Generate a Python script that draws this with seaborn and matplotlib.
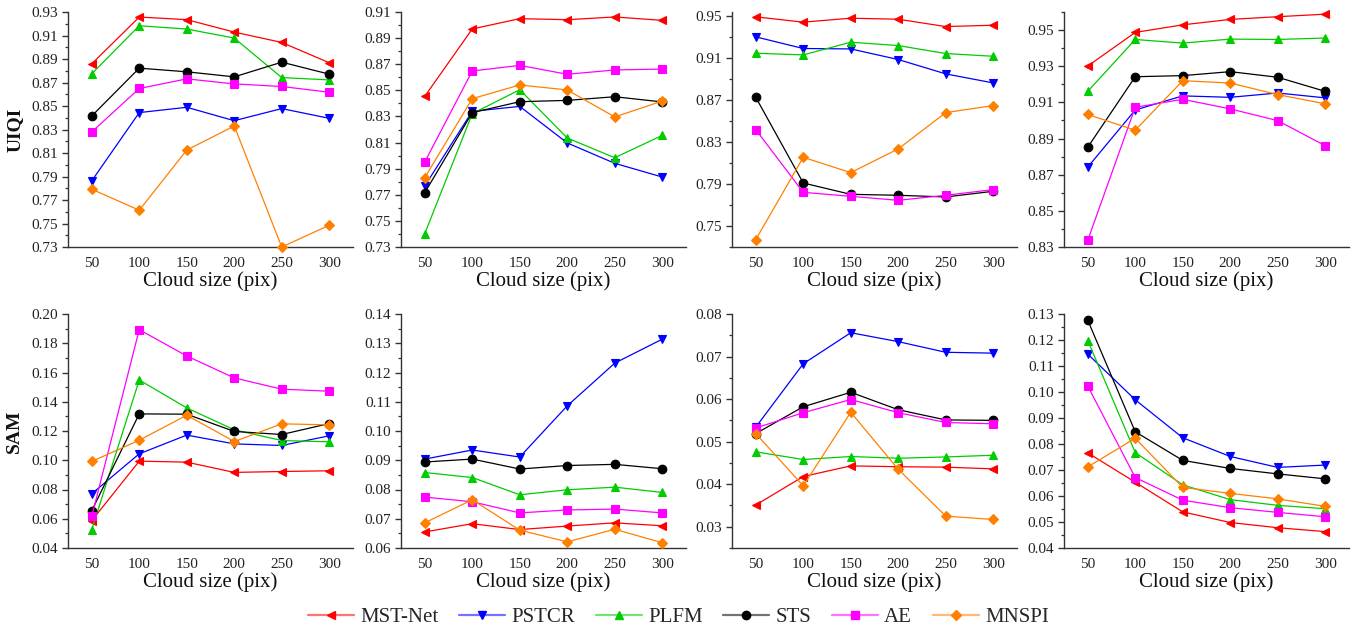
import numpy as np
import pandas as pd
import matplotlib
matplotlib.use("Agg")
import matplotlib.pyplot as plt
from matplotlib.lines import Line2D
from matplotlib.ticker import AutoMinorLocator, FormatStrFormatter
import seaborn as sns

# ---------------- data ----------------
sizes = [50, 100, 150, 200, 250, 300]
methods = ["MST-Net", "PSTCR", "PLFM", "STS", "AE", "MNSPI"]
colors = ["#FF0000", "#0000FF", "#00CC00", "#000000", "#FF00FF", "#FF8000"]
markers = ["<", "v", "^", "o", "s", "D"]

uiqi_1 = {
    "MST-Net": [0.8859, 0.9257, 0.9235, 0.9129, 0.9041, 0.8868],
    "PSTCR":   [0.7863, 0.8444, 0.8489, 0.8375, 0.8478, 0.8395],
    "PLFM":    [0.8774, 0.9183, 0.9155, 0.9078, 0.8742, 0.8722],
    "STS":     [0.8415, 0.8822, 0.8791, 0.8748, 0.8873, 0.8771],
    "AE":      [0.8279, 0.8649, 0.8731, 0.8688, 0.8666, 0.8617],
    "MNSPI":   [0.7792, 0.7613, 0.8125, 0.8330, 0.7300, 0.7485],
}
uiqi_2 = {
    "MST-Net": [0.8454, 0.8970, 0.9049, 0.9041, 0.9062, 0.9036],
    "PSTCR":   [0.7767, 0.8339, 0.8377, 0.8097, 0.7941, 0.7836],
    "PLFM":    [0.7402, 0.8321, 0.8505, 0.8135, 0.7984, 0.8155],
    "STS":     [0.7716, 0.8329, 0.8413, 0.8423, 0.8451, 0.8411],
    "AE":      [0.7951, 0.8648, 0.8691, 0.8623, 0.8656, 0.8663],
    "MNSPI":   [0.7831, 0.8436, 0.8541, 0.8503, 0.8296, 0.8418],
}
uiqi_3 = {
    "MST-Net": [0.9494, 0.9443, 0.9481, 0.9471, 0.9401, 0.9414],
    "PSTCR":   [0.9303, 0.9192, 0.9188, 0.9087, 0.8950, 0.8864],
    "PLFM":    [0.9147, 0.9131, 0.9252, 0.9220, 0.9144, 0.9118],
    "STS":     [0.8727, 0.7910, 0.7802, 0.7793, 0.7777, 0.7831],
    "AE":      [0.8419, 0.7821, 0.7783, 0.7745, 0.7793, 0.7847],
    "MNSPI":   [0.7370, 0.8155, 0.8009, 0.8235, 0.8581, 0.8648],
}
uiqi_4 = {
    "MST-Net": [0.9301, 0.9487, 0.9529, 0.9559, 0.9574, 0.9588],
    "PSTCR":   [0.8742, 0.9058, 0.9136, 0.9128, 0.9152, 0.9125],
    "PLFM":    [0.9161, 0.9448, 0.9428, 0.9450, 0.9448, 0.9456],
    "STS":     [0.8852, 0.9242, 0.9248, 0.9270, 0.9239, 0.9161],
    "AE":      [0.8337, 0.9073, 0.9117, 0.9064, 0.8999, 0.8860],
    "MNSPI":   [0.9033, 0.8946, 0.9220, 0.9207, 0.9143, 0.9092],
}
sam_1 = {
    "MST-Net": [0.0587, 0.0994, 0.0987, 0.0917, 0.0923, 0.0928],
    "PSTCR":   [0.0771, 0.1044, 0.1172, 0.1112, 0.1101, 0.1167],
    "PLFM":    [0.0525, 0.1549, 0.1358, 0.1208, 0.1135, 0.1126],
    "STS":     [0.0655, 0.1317, 0.1315, 0.1197, 0.1176, 0.1251],
    "AE":      [0.0616, 0.1893, 0.1713, 0.1563, 0.1486, 0.1472],
    "MNSPI":   [0.0992, 0.1137, 0.1308, 0.1128, 0.1249, 0.1242],
}
sam_2 = {
    "MST-Net": [0.0655, 0.0683, 0.0663, 0.0675, 0.0686, 0.0676],
    "PSTCR":   [0.0904, 0.0935, 0.0911, 0.1086, 0.1232, 0.1314],
    "PLFM":    [0.0858, 0.0841, 0.0782, 0.0799, 0.0808, 0.0790],
    "STS":     [0.0894, 0.0904, 0.0870, 0.0882, 0.0886, 0.0871],
    "AE":      [0.0774, 0.0758, 0.0720, 0.0730, 0.0733, 0.0720],
    "MNSPI":   [0.0686, 0.0765, 0.0661, 0.0621, 0.0664, 0.0618],
}
sam_3 = {
    "MST-Net": [0.0351, 0.0418, 0.0443, 0.0441, 0.0440, 0.0436],
    "PSTCR":   [0.0534, 0.0683, 0.0756, 0.0735, 0.0710, 0.0708],
    "PLFM":    [0.0476, 0.0458, 0.0465, 0.0461, 0.0464, 0.0468],
    "STS":     [0.0519, 0.0582, 0.0616, 0.0575, 0.0551, 0.0550],
    "AE":      [0.0532, 0.0568, 0.0599, 0.0568, 0.0545, 0.0542],
    "MNSPI":   [0.0519, 0.0396, 0.0569, 0.0435, 0.0325, 0.0317],
}
sam_4 = {
    "MST-Net": [0.0766, 0.0653, 0.0539, 0.0498, 0.0478, 0.0463],
    "PSTCR":   [0.1146, 0.0970, 0.0824, 0.0752, 0.0710, 0.0719],
    "PLFM":    [0.1198, 0.0767, 0.0643, 0.0586, 0.0564, 0.0551],
    "STS":     [0.1276, 0.0847, 0.0737, 0.0706, 0.0685, 0.0666],
    "AE":      [0.1023, 0.0671, 0.0584, 0.0555, 0.0537, 0.0520],
    "MNSPI":   [0.0712, 0.0822, 0.0633, 0.0610, 0.0589, 0.0560],
}

panels = [uiqi_1, uiqi_2, uiqi_3, uiqi_4, sam_1, sam_2, sam_3, sam_4]
ylims = [(0.73, 0.93), (0.73, 0.91), (0.73, 0.954), (0.83, 0.96),
         (0.04, 0.20), (0.06, 0.14), (0.025, 0.08), (0.04, 0.13)]
ytick_start = [0.73, 0.73, 0.75, 0.83, 0.04, 0.06, 0.03, 0.04]
ysteps = [0.02, 0.02, 0.04, 0.02, 0.02, 0.01, 0.01, 0.01]
ylabels = ["UIQI", "SAM"]

# ---------------- style ----------------
sns.set_theme(style="ticks")
plt.rcParams["font.family"] = ["Liberation Serif", "DejaVu Serif"]
plt.rcParams["axes.linewidth"] = 1.0

W, H = 1357, 633
fig = plt.figure(figsize=(W / 100, H / 100), dpi=100)

col_left = [68, 401, 732, 1064]
col_w = 285
row_top = [12, 314]
row_bot = [247, 548]

for i, data in enumerate(panels):
    r, c = divmod(i, 4)
    ax = fig.add_axes([col_left[c] / W, 1 - row_bot[r] / H, col_w / W,
                       (row_bot[r] - row_top[r]) / H])
    for m, col, mk in zip(methods, colors, markers):
        ms = 5.2 if mk == "D" else 6.2
        sns.lineplot(x=sizes, y=data[m], ax=ax, color=col, marker=mk,
                     markersize=ms, markeredgecolor=col, markeredgewidth=0.8,
                     linewidth=0.9, clip_on=False, zorder=3)
    ax.set_xlim(25, 325)
    ax.set_xticks(sizes)
    lo, hi = ylims[i]
    ax.set_ylim(lo, hi)
    step = ysteps[i]
    n = int(round((hi - ytick_start[i]) / step + 1e-6)) + 1
    ticks = [round(ytick_start[i] + k * step, 4) for k in range(n)
             if ytick_start[i] + k * step <= hi + 1e-9]
    ax.set_yticks(ticks)
    ax.set_ylim(lo, hi)
    ax.yaxis.set_major_formatter(FormatStrFormatter("%.2f"))
    ax.yaxis.set_minor_locator(AutoMinorLocator(2))
    ax.tick_params(axis="y", which="major", length=4, width=1.0, pad=3,
                   labelsize=11, color="#333333", labelcolor="#222222")
    ax.tick_params(axis="y", which="minor", length=2.2, width=0.9,
                   color="#333333")
    ax.tick_params(axis="x", which="major", length=0, pad=7, labelsize=11,
                   labelcolor="#222222")
    for s in ["top", "right"]:
        ax.spines[s].set_visible(False)
    for s in ["left", "bottom"]:
        ax.spines[s].set_color("#333333")
    ax.set_xlabel("Cloud size (pix)", fontsize=15, labelpad=1, color="#111111")
    if c == 0:
        ax.set_ylabel(ylabels[r], fontsize=14, fontweight="bold", labelpad=6,
                      color="#111111")
    else:
        ax.set_ylabel("")

handles = []
for m, col, mk in zip(methods, colors, markers):
    rgb = matplotlib.colors.to_rgb(col)
    handles.append(Line2D([0], [0], color=(*rgb, 0.55), linewidth=1.6,
                          marker=mk, markersize=6 if mk != "D" else 5,
                          markerfacecolor=col, markeredgecolor=col,
                          label=m))
fig.legend(handles=handles, loc="center", bbox_to_anchor=(0.5, 1 - 617 / H),
           ncol=6, frameon=False, fontsize=15, handlelength=2.2,
           handletextpad=0.3, columnspacing=1.0)

fig.savefig("out.png", dpi=100)
